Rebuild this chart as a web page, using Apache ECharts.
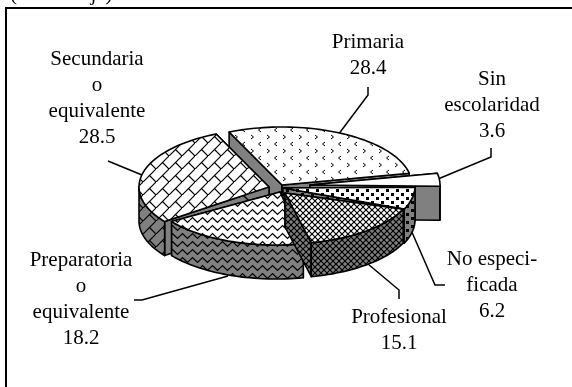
<!DOCTYPE html>
<html lang="es">
<head>
    <meta charset="UTF-8">
    <title>Escolaridad</title>
    <script src="https://cdn.jsdelivr.net/npm/echarts@6/dist/echarts.min.js"></script>
    <style>
        html, body { margin: 0; padding: 0; background: #fff; }
        #main { width: 572px; height: 387px; }
    </style>
</head>
<body>
<div id="main"></div>
<script type="text/javascript">
    // datos, en el sentido de las agujas del reloj desde Primaria
    const categories = ['Primaria', 'Sin\nescolaridad', 'No especi-\nficada', 'Profesional', 'Preparatoria\no\nequivalente', 'Secundaria\no\nequivalente'];
    const values = [28.4, 3.6, 6.2, 15.1, 18.2, 28.5];
    const valueLabels = ['28.4', '3.6', '6.2', '15.1', '18.2', '28.5'];

    // geometria del pastel
    const cx = 281, cy = 186, rx = 130, ry = 58, depth = 34, startAngle = -24;
    const explode = [[1, -1], [29, -1], [4, 0], [3, 0], [-5, 1], [-12, 1]];
    const tipShift = [[0, 0], [0, 0], [-2, 2], [1, 7], [4, 5], [0, 0]];
    const paintOrder = [0, 1, 5, 2, 4, 3];
    const total = values.reduce((a, b) => a + b, 0);

    const GREY = '#808080';

    function tile(w, h, bg, draw) {
        const c = document.createElement('canvas');
        c.width = w; c.height = h;
        const g = c.getContext('2d');
        g.fillStyle = bg;
        g.fillRect(0, 0, w, h);
        g.strokeStyle = '#000';
        g.fillStyle = '#000';
        g.lineWidth = 1;
        draw(g);
        return { image: c, repeat: 'repeat' };
    }

    function line(g, pts) {
        g.beginPath();
        pts.forEach((p, i) => i ? g.lineTo(p[0], p[1]) : g.moveTo(p[0], p[1]));
        g.stroke();
    }

    const drawers = [
        // chevrones
        g => {
            line(g, [[5, 2], [2.5, 4], [5, 6]]);
            line(g, [[11, 9], [13.5, 11], [11, 13]]);
        },
        null,
        // puntos
        g => {
            g.fillRect(1, 1, 3, 3);
            g.fillRect(6, 5, 3, 3);
        },
        // rombos
        g => {
            g.lineWidth = 1.2;
            line(g, [[-1, -1], [7, 7]]);
            line(g, [[-1, 7], [7, -1]]);
        },
        // ondas
        g => {
            g.lineWidth = 1.2;
            line(g, [[0, 4], [2.5, 1.5], [5, 4], [7.5, 6.5], [10, 4]]);
        },
        // ladrillos
        g => {
            g.lineWidth = 1.2;
            line(g, [[-1, 14], [14, -1]]);
            line(g, [[6.5, 6.5], [13, 13]]);
        }
    ];
    const sizes = [[16, 14], [4, 4], [10, 8], [6, 6], [10, 8], [13, 13]];

    function pattern(i, bg) {
        return drawers[i] ? tile(sizes[i][0], sizes[i][1], bg, drawers[i]) : bg;
    }
    const topFill = categories.map((c, i) => pattern(i, '#fff'));
    const wallFill = categories.map((c, i) => pattern(i, GREY));
    const cutFill = [GREY, GREY, wallFill[2], wallFill[3], wallFill[4], GREY];

    // angulos acumulados
    const angles = [];
    let acc = startAngle;
    values.forEach(v => {
        angles.push([acc, acc + v / total * 360]);
        acc += v / total * 360;
    });

    function pt(a, off, dz) {
        const r = a * Math.PI / 180;
        return [cx + off[0] + rx * Math.sin(r), cy + off[1] - ry * Math.cos(r) + dz];
    }

    function arc(a0, a1, off, dz) {
        const out = [];
        const n = Math.max(2, Math.ceil(Math.abs(a1 - a0) / 2));
        for (let k = 0; k <= n; k++) out.push(pt(a0 + (a1 - a0) * k / n, off, dz));
        return out;
    }

    function poly(points, fill) {
        return {
            type: 'polygon',
            shape: { points: points },
            style: { fill: fill, stroke: '#000', lineWidth: 1.6, lineJoin: 'round' }
        };
    }

    function renderSlice(params, api) {
        const i = api.value(0);
        const a0 = angles[i][0], a1 = angles[i][1], off = explode[i];
        const tip = [cx + off[0] + tipShift[i][0], cy + off[1] + tipShift[i][1]];
        const tipLow = [tip[0], tip[1] + depth];
        const children = [];
        const cut = a => {
            const p = pt(a, off, 0), q = pt(a, off, depth);
            return poly([tip, p, q, tipLow], cutFill[i]);
        };
        children.push(cut(a0), cut(a1));
        const w0 = Math.max(a0, 90), w1 = Math.min(a1, 270);
        if (w1 > w0) {
            children.push(poly(arc(w0, w1, off, 0).concat(arc(w1, w0, off, depth)), wallFill[i]));
        }
        children.push(poly([tip].concat(arc(a0, a1, off, 0)), topFill[i]));
        return { type: 'group', children: children };
    }

    // posiciones de las etiquetas y lineas guia
    const labelPos = [[368, 42], [492, 79], [492, 259], [399, 317], [81, 260], [97, 59]];
    const guides = [
        [[338, 135], [368, 95], [368, 87]],
        [[438, 179], [491, 157], [491, 148]],
        [[411, 230], [435, 285], [445, 285]],
        [[368, 264], [399, 290], [399, 299]],
        [[228, 276], [142, 300], [134, 300]],
        [[142, 175], [108, 161]]
    ];
    const LINE_H = 26;
    const FONT = '21px "Liberation Serif"';

    // el marco se sale de la imagen por la derecha y por abajo
    const graphics = [
        { type: 'rect', shape: { x: 6, y: 8, width: 590, height: 400 }, style: { fill: '#fff', stroke: '#000', lineWidth: 2 }, z: 0 },
        { type: 'text', x: 10, y: -16, z: 1, style: { text: '(Porcentaje)', font: FONT, fill: '#000' } }
    ];
    guides.forEach(g => graphics.push({
        type: 'polyline', z: 1, shape: { points: g },
        style: { stroke: '#000', lineWidth: 1.5, fill: null }
    }));
    categories.forEach((c, i) => {
        const lines = c.split('\n').concat(valueLabels[i]);
        lines.forEach((t, k) => graphics.push({
            type: 'text', z: 1, x: labelPos[i][0], y: labelPos[i][1] + k * LINE_H,
            style: { text: t, font: FONT, fill: '#000', align: 'center', verticalAlign: 'middle' }
        }));
    });

    const myChart = echarts.init(document.getElementById('main'), null, { renderer: 'canvas' });
    myChart.setOption({
        backgroundColor: '#fff',
        animation: false,
        graphic: { elements: graphics },
        series: [{
            type: 'custom',
            coordinateSystem: 'none',
            silent: true,
            z: 5,
            renderItem: renderSlice,
            data: paintOrder.map(i => [i, values[i]])
        }]
    });
</script>
</body>
</html>
